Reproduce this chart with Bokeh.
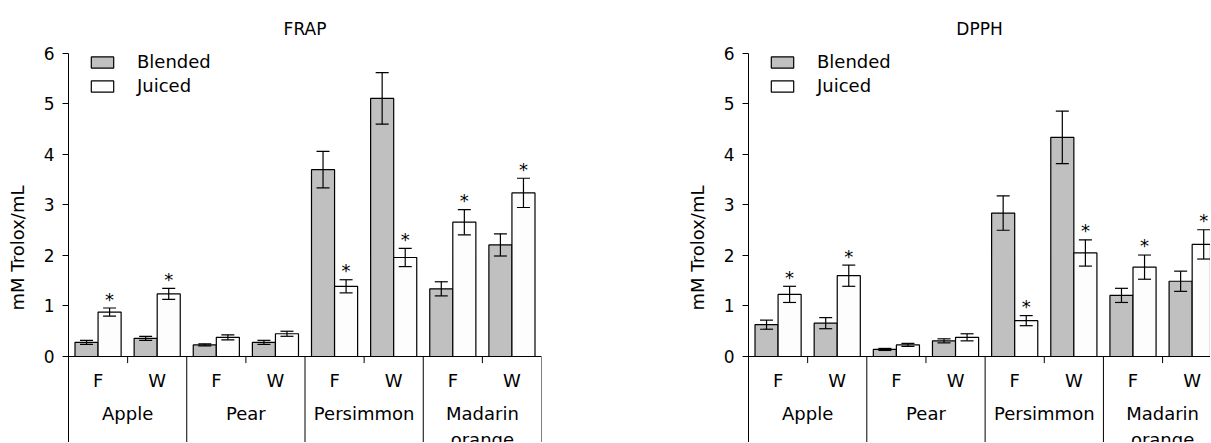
from bokeh.plotting import figure
from bokeh.models import (ColumnDataSource, Whisker, TeeHead, Legend, LegendItem,
                          FixedTicker, Range1d)
from bokeh.layouts import row
from bokeh.embed import file_html
from bokeh.resources import INLINE
from bokeh.core.properties import value

# ---------------- data ----------------
fruits = ["Apple", "Pear", "Persimmon", "Madarin\norange"]
seasons = ["F", "W"]

frap_blended = [0.28, 0.36, 0.23, 0.28, 3.70, 5.11, 1.34, 2.21]
frap_blended_err = [0.04, 0.04, 0.02, 0.04, 0.36, 0.51, 0.14, 0.22]
frap_juiced = [0.88, 1.24, 0.38, 0.45, 1.39, 1.96, 2.66, 3.24]
frap_juiced_err = [0.08, 0.11, 0.05, 0.05, 0.13, 0.18, 0.25, 0.29]

dpph_blended = [0.63, 0.66, 0.14, 0.31, 2.84, 4.34, 1.21, 1.49]
dpph_blended_err = [0.09, 0.11, 0.02, 0.04, 0.34, 0.52, 0.14, 0.20]
dpph_juiced = [1.23, 1.60, 0.23, 0.38, 0.71, 2.05, 1.77, 2.22]
dpph_juiced_err = [0.16, 0.21, 0.03, 0.07, 0.10, 0.26, 0.24, 0.29]

juiced_significant = [True, True, False, False, True, True, True, True]

y_ticks = [0, 1, 2, 3, 4, 5, 6]

# ---------------- styling ----------------
FONT = "DejaVu Sans"
GRAY = "#c0c0c0"
WHITE = "#fdfdfd"
BAR_W = 0.39
Y_BOTTOM = -1.703
HEIGHT = 442
BORDER_LEFT = 68
BORDER_TOP = 53

n_sub = len(fruits) * len(seasons)
centers = [i + 0.5 for i in range(n_sub)]
sub_labels = [s for _ in fruits for s in seasons]
group_centers = [len(seasons) * g + len(seasons) / 2 for g in range(len(fruits))]
separators = [len(seasons) * (g + 1) for g in range(len(fruits))]
minor_ticks = [len(seasons) * g + 1 for g in range(len(fruits))]


def panel(title, blended, berr, juiced, jerr, x_end, frame_w, border_right):
    p = figure(width=BORDER_LEFT + frame_w + border_right, height=HEIGHT,
               x_range=Range1d(0, x_end), y_range=Range1d(Y_BOTTOM, 6),
               output_backend="svg", toolbar_location=None, x_axis_type=None,
               min_border_left=BORDER_LEFT, min_border_right=border_right,
               min_border_top=BORDER_TOP, min_border_bottom=0, title=title)
    p.title.text_font = FONT
    p.title.text_font_size = "17px"
    p.title.text_font_style = "normal"
    p.title.align = "center"
    p.title.text_color = "black"
    p.title.standoff = 30
    p.outline_line_color = None
    p.grid.visible = False
    p.background_fill_color = "white"
    p.border_fill_color = "white"

    ax = p.yaxis[0]
    ax.ticker = FixedTicker(ticks=y_ticks)
    ax.axis_label = "mM Trolox/mL"
    ax.axis_label_text_font = FONT
    ax.axis_label_text_font_size = "18px"
    ax.axis_label_text_font_style = "normal"
    ax.axis_label_text_color = "black"
    ax.axis_label_standoff = 13
    ax.major_label_text_font = FONT
    ax.major_label_text_font_size = "17px"
    ax.major_label_text_color = "black"
    ax.major_label_standoff = 8
    ax.major_tick_out = 6
    ax.major_tick_in = 0
    ax.minor_tick_out = 0
    ax.minor_tick_in = 0
    ax.axis_line_color = "black"
    ax.major_tick_line_color = "black"

    xb = [c - BAR_W / 2 for c in centers]
    xj = [c + BAR_W / 2 for c in centers]
    src_b = ColumnDataSource(dict(x=xb, top=blended,
                                  upper=[v + e for v, e in zip(blended, berr)],
                                  lower=[v - e for v, e in zip(blended, berr)]))
    src_j = ColumnDataSource(dict(x=xj, top=juiced,
                                  upper=[v + e for v, e in zip(juiced, jerr)],
                                  lower=[v - e for v, e in zip(juiced, jerr)]))
    rb = p.vbar(x="x", top="top", bottom=0, width=BAR_W, source=src_b,
                fill_color=GRAY, line_color="black", line_width=1.2)
    rj = p.vbar(x="x", top="top", bottom=0, width=BAR_W, source=src_j,
                fill_color=WHITE, line_color="black", line_width=1.2)

    for src in (src_b, src_j):
        w = Whisker(base="x", upper="upper", lower="lower", source=src,
                    line_color="black", line_width=1.2, level="overlay",
                    upper_head=TeeHead(size=13, line_color="black", line_width=1.2),
                    lower_head=TeeHead(size=13, line_color="black", line_width=1.2))
        p.add_layout(w)

    # significance stars
    sx = [x for x, s in zip(xj, juiced_significant) if s]
    sy = [v + e for v, e, s in zip(juiced, jerr, juiced_significant) if s]
    p.text(x=sx, y=sy, text=["*"] * len(sx), text_align="center",
           text_baseline="middle", y_offset=-9, text_font=value(FONT),
           text_font_size="18px", text_color="black")

    # category axis drawn in the frame below zero
    p.segment(x0=[0], y0=[0], x1=[len(centers)], y1=[0], line_color="black", line_width=1.2)
    p.segment(x0=separators, y0=[0] * len(separators), x1=separators,
              y1=[Y_BOTTOM - 1] * len(separators), line_color="black", line_width=1)
    p.segment(x0=minor_ticks, y0=[0] * len(minor_ticks), x1=minor_ticks,
              y1=[-0.13] * len(minor_ticks), line_color="black", line_width=1)
    p.text(x=centers, y=[-0.475] * len(centers), text=sub_labels, text_align="center",
           text_baseline="middle", text_font=value(FONT), text_font_size="18px",
           text_color="black")
    p.text(x=group_centers, y=[-0.93] * len(group_centers), text=fruits,
           text_align="center", text_baseline="top", text_font=value(FONT),
           text_font_size="18px", text_color="black", text_line_height=1.2)

    leg = Legend(items=[LegendItem(label="Blended", renderers=[rb]),
                        LegendItem(label="Juiced", renderers=[rj])],
                 location=(20, 346), padding=0, margin=0, spacing=3,
                 glyph_width=28, glyph_height=14, label_standoff=21,
                 label_text_font=FONT, label_text_font_size="18px",
                 label_text_color="black", border_line_color=None,
                 background_fill_alpha=0, label_height=20)
    p.add_layout(leg)
    return p


p1 = panel("FRAP", frap_blended, frap_blended_err, frap_juiced, frap_juiced_err,
           8, 473, 139)
p2 = panel("DPPH", dpph_blended, dpph_blended_err, dpph_juiced, dpph_juiced_err,
           7.81, 462, 0)

layout = row(p1, p2)
open("out.html", "w").write(file_html(layout, INLINE))
